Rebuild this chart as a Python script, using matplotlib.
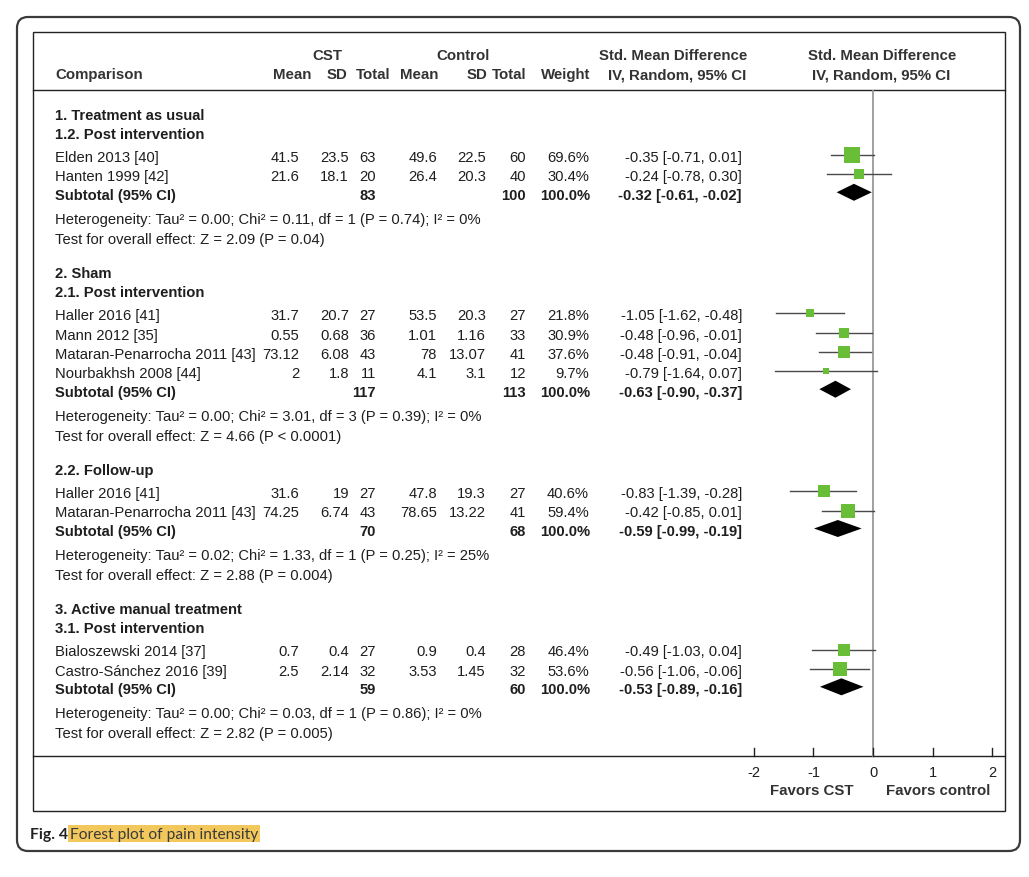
import matplotlib
matplotlib.use("Agg")
import matplotlib.pyplot as plt
from matplotlib.patches import FancyBboxPatch, Rectangle

plt.rcParams['font.family'] = ['Liberation Sans', 'DejaVu Sans']

# ---------------- data ----------------
studies = ["Elden 2013 [40]", "Hanten 1999 [42]",
           "Haller 2016 [41]", "Mann 2012 [35]", "Mataran-Penarrocha 2011 [43]", "Nourbakhsh 2008 [44]",
           "Haller 2016 [41]", "Mataran-Penarrocha 2011 [43]",
           "Bialoszewski 2014 [37]", "Castro-Sánchez 2016 [39]"]
cst_mean = [41.5, 21.6, 31.7, 0.55, 73.12, 2, 31.6, 74.25, 0.7, 2.5]
cst_sd = [23.5, 18.1, 20.7, 0.68, 6.08, 1.8, 19, 6.74, 0.4, 2.14]
cst_n = [63, 20, 27, 36, 43, 11, 27, 43, 27, 32]
ctl_mean = [49.6, 26.4, 53.5, 1.01, 78, 4.1, 47.8, 78.65, 0.9, 3.53]
ctl_sd = [22.5, 20.3, 20.3, 1.16, 13.07, 3.1, 19.3, 13.22, 0.4, 1.45]
ctl_n = [60, 40, 27, 33, 41, 12, 27, 41, 28, 32]
weight = [69.6, 30.4, 21.8, 30.9, 37.6, 9.7, 40.6, 59.4, 46.4, 53.6]
smd = [-0.35, -0.24, -1.05, -0.48, -0.48, -0.79, -0.83, -0.42, -0.49, -0.56]
ci_lo = [-0.71, -0.78, -1.62, -0.96, -0.91, -1.64, -1.39, -0.85, -1.03, -1.06]
ci_hi = [0.01, 0.30, -0.48, -0.01, -0.04, 0.07, -0.28, 0.01, 0.04, -0.06]

group_titles = ["1. Treatment as usual", "2. Sham", None, "3. Active manual treatment"]
subgroup_titles = ["1.2. Post intervention", "2.1. Post intervention", "2.2. Follow-up", "3.1. Post intervention"]
group_members = [[0, 1], [2, 3, 4, 5], [6, 7], [8, 9]]
sub_cst_n = [83, 117, 70, 59]
sub_ctl_n = [100, 113, 68, 60]
sub_smd = [-0.32, -0.63, -0.59, -0.53]
sub_lo = [-0.61, -0.90, -0.99, -0.89]
sub_hi = [-0.02, -0.37, -0.19, -0.16]
het_tau2 = ["0.00", "0.00", "0.02", "0.00"]
het_chi2 = ["0.11", "3.01", "1.33", "0.03"]
het_df = [1, 3, 1, 1]
het_p = ["0.74", "0.39", "0.25", "0.86"]
het_i2 = [0, 0, 25, 0]
test_z = ["2.09", "4.66", "2.88", "2.82"]
test_p = ["= 0.04", "< 0.0001", "= 0.004", "= 0.005"]

axis_ticks = [-2, -1, 0, 1, 2]
favors_left = "Favors CST"
favors_right = "Favors control"
caption_bold = "Fig. 4"
caption_text = "Forest plot of pain intensity"

# ---------------- figure ----------------
W, H = 1029, 878
fig = plt.figure(figsize=(W / 100, H / 100), dpi=100)
ax = fig.add_axes([0, 0, 1, 1])
ax.set_xlim(0, W)
ax.set_ylim(H, 0)
ax.axis('off')

# forest panel axes (pixel x-range 750..1005, zero at 873, 59.6 px per unit)
px0, px1, zero_px, unit = 750, 1005, 873, 59.6
fx = fig.add_axes([px0 / W, 0, (px1 - px0) / W, 1])
fx.set_xlim((px0 - zero_px) / unit, (px1 - zero_px) / unit)
fx.set_ylim(H, 0)
fx.axis('off')
fx.patch.set_alpha(0)

FS = 10.6
HFS = 10.8
BASE = 5.0          # baseline offset below visual centre of capitals
TXT = '#1e1e1e'
HDR = '#333333'
GREEN = '#69BE37'

# borders
ax.add_patch(FancyBboxPatch((17, 18), 1003, 834, boxstyle='round,pad=0,rounding_size=11',
                            fill=False, ec='#3a3a3a', lw=1.6))
ax.add_patch(Rectangle((33, 33), 972, 779, fill=False, ec='#222', lw=1.0))
ax.plot([33, 1005], [91, 91], color='#222', lw=1.0)
ax.plot([33, 1005], [757, 757], color='#222', lw=1.0)

# header
def h(x, y, s, ha):
    ax.text(x, y + BASE, s, ha=ha, va='baseline', fontsize=HFS, fontweight='bold', color=HDR)

h(327, 55, "CST", 'center')
h(463, 55, "Control", 'center')
h(673, 55, "Std. Mean Difference", 'center')
h(882, 55, "Std. Mean Difference", 'center')
h(55, 74, "Comparison", 'left')
for lab, xr in [("Mean", 311), ("SD", 347), ("Total", 391), ("Mean", 438),
                ("SD", 487), ("Total", 527), ("Weight", 590)]:
    h(xr, 74, lab, 'right')
h(677, 74, "IV, Random, 95% CI", 'center')
h(881, 74, "IV, Random, 95% CI", 'center')

# column right edges
X_NAME, X_CM, X_CS, X_CN, X_KM, X_KS, X_KN, X_W, X_CI = 55, 299, 349, 376, 437, 486, 526, 589, 742

def t(x, y, s, ha='right', bold=False):
    ax.text(x, y + BASE, s, ha=ha, va='baseline', fontsize=FS, color=TXT,
            fontweight='bold' if bold else 'normal')

y = 115
for g in range(4):
    if group_titles[g] is not None:
        t(X_NAME, y, group_titles[g], ha='left', bold=True)
        y += 19
    t(X_NAME, y, subgroup_titles[g], ha='left', bold=True)
    y += 23
    for i in group_members[g]:
        t(X_NAME, y, studies[i], ha='left')
        t(X_CM, y, f"{cst_mean[i]:g}")
        t(X_CS, y, f"{cst_sd[i]:g}")
        t(X_CN, y, f"{cst_n[i]}")
        t(X_KM, y, f"{ctl_mean[i]:g}")
        t(X_KS, y, f"{ctl_sd[i]:g}")
        t(X_KN, y, f"{ctl_n[i]}")
        t(X_W, y, f"{weight[i]:.1f}%")
        t(X_CI, y, f"{smd[i]:.2f} [{ci_lo[i]:.2f}, {ci_hi[i]:.2f}]")
        fx.plot([ci_lo[i], ci_hi[i]], [y - 1, y - 1], color='#4a4a4a', lw=1.0, zorder=2)
        fx.scatter([smd[i]], [y - 1], marker='s', s=1.68 * weight[i], color=GREEN,
                   linewidths=0, zorder=3)
        y += 19.3
    y -= 0.8
    t(X_NAME, y, "Subtotal (95% CI)", ha='left', bold=True)
    t(X_CN, y, f"{sub_cst_n[g]}", bold=True)
    t(X_KN, y, f"{sub_ctl_n[g]}", bold=True)
    t(X_W + 1, y, "100.0%", bold=True)
    t(X_CI, y, f"{sub_smd[g]:.2f} [{sub_lo[g]:.2f}, {sub_hi[g]:.2f}]", bold=True)
    hh = 8.5
    yd = y - 1.5
    fx.fill([sub_lo[g], sub_smd[g], sub_hi[g], sub_smd[g]], [yd, yd - hh, yd, yd + hh],
            color='black', lw=0, zorder=3)
    y += 24
    t(X_NAME, y, f"Heterogeneity: Tau² = {het_tau2[g]}; Chi² = {het_chi2[g]}, df = {het_df[g]} "
                 f"(P = {het_p[g]}); I² = {het_i2[g]}%", ha='left')
    y += 20
    t(X_NAME, y, f"Test for overall effect: Z = {test_z[g]} (P {test_p[g]})", ha='left')
    y += 34.5

# zero line and axis
fx.plot([0, 0], [92, 757], color='#999', lw=1.3, zorder=1)
for tk in axis_ticks:
    fx.plot([tk, tk], [749, 757], color='#222', lw=1.0)
    fx.text(tk, 772 + 5, f"{tk}", ha='center', va='baseline', fontsize=10.5, color=TXT)
ax.text(812, 790 + 5, favors_left, ha='center', va='baseline', fontsize=10.8,
        fontweight='bold', color=HDR)
ax.text(938, 790 + 5, favors_right, ha='center', va='baseline', fontsize=10.8,
        fontweight='bold', color=HDR)

# caption
cfam = ['Lato', 'DejaVu Sans']
ax.text(30, 835, caption_bold, ha='left', va='center', fontsize=11.3, fontweight='bold',
        color='#222', family=cfam)
cap = ax.text(70, 835, caption_text, ha='left', va='center', fontsize=11.2, color='#3a3a3a',
              family=cfam, zorder=2)
fig.canvas.draw()
bb = cap.get_window_extent(renderer=fig.canvas.get_renderer())
x_end = bb.x1 * W / (fig.get_figwidth() * fig.dpi) + 2
ax.add_patch(Rectangle((68, 826.5), x_end - 68, 17, facecolor='#F2C75C',
                       edgecolor='none', zorder=0))

fig.savefig("out.png", dpi=100)
